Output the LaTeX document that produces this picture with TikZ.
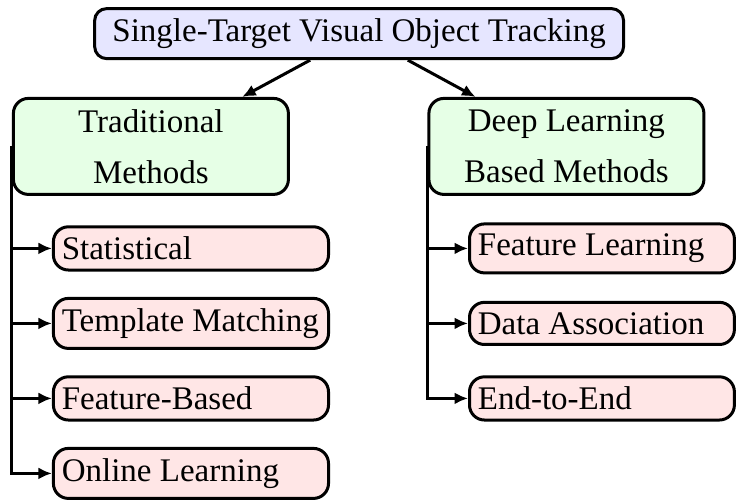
\documentclass[tikz,border=0pt]{standalone}
\usepackage{fontspec}
\setmainfont{Liberation Serif}
\usepackage{xcolor}
\usepackage{tikz}
\usetikzlibrary{arrows.meta,positioning}
\definecolor{tblue}{HTML}{E6E6FF}
\definecolor{tgreen}{HTML}{E6FFE6}
\definecolor{tred}{HTML}{FFE6E6}

\begin{document}
\begin{tikzpicture}[
  every node/.style={font=\rmfamily\fontsize{11}{13.6}\selectfont},
  rootbox/.style={draw,line width=1pt,fill=tblue,rounded corners=4pt,minimum width=176.3pt},
  catbox/.style={draw,line width=1pt,fill=tgreen,rounded corners=5pt,text width=85pt,minimum height=32pt,align=flush center},
  leafbox/.style={draw,line width=1pt,fill=tred,rounded corners=5pt,inner xsep=2.8pt,align=flush left},
  lleaf/.style={leafbox,text width=86.1pt},
  rleaf/.style={leafbox,text width=82.7pt},
  arrow/.style={-{Latex[length=4.5pt,width=4pt]},line width=1pt}
]
\useasboundingbox (0,0) rectangle (246pt,-166.7pt);

\node[rootbox] (svot) at (119.7pt,-11.2pt) {Single-Target Visual Object Tracking};
\node[catbox] (trad) at (50.3pt,-48.8pt) {Traditional\\[3.4pt]Methods};
\node[catbox] (deep) at (188.8pt,-48.8pt) {Deep Learning\\[3.4pt]Based Methods};

% traditional branch
\node[lleaf,anchor=west] (stat) at (17.3pt,-82.8pt) {Statistical};
\node[lleaf,below=25pt of stat.west,anchor=west] (tmatch) {Template Matching};
\node[lleaf,below=25pt of tmatch.west,anchor=west] (fbased) {Feature-Based};
\node[lleaf,below=25pt of fbased.west,anchor=west] (online) {Online Learning};

% deep learning branch
\node[rleaf,anchor=west] (flearn) at (156pt,-82.8pt) {Feature Learning};
\node[rleaf,below=25pt of flearn.west,anchor=west] (dassoc) {Data Association};
\node[rleaf,below=25pt of dassoc.west,anchor=west] (e2e) {End-to-End};

\draw[arrow] (svot) -- (trad);
\draw[arrow] (svot) -- (deep);

\draw[arrow] (trad.west) |- (stat.west);
\draw[arrow] (trad.west) |- (tmatch.west);
\draw[arrow] (trad.west) |- (fbased.west);
\draw[arrow] (trad.west) |- (online.west);

\draw[arrow] (deep.west) |- (flearn.west);
\draw[arrow] (deep.west) |- (dassoc.west);
\draw[arrow] (deep.west) |- (e2e.west);
\end{tikzpicture}
\end{document}
